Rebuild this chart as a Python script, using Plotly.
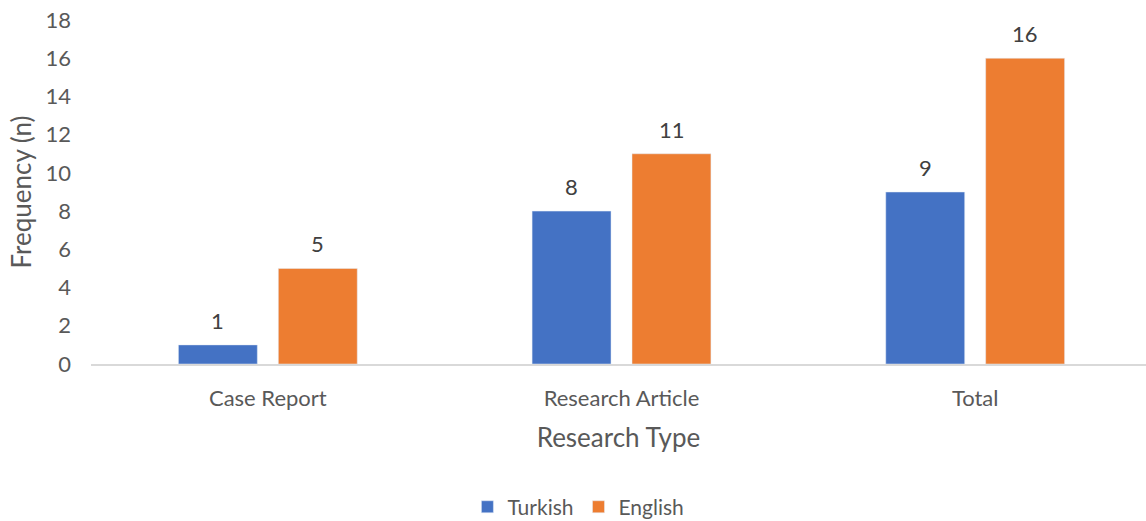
import plotly.graph_objects as go

categories = ["Case Report", "Research Article", "Total"]
turkish = [1, 8, 9]
english = [5, 11, 16]
y_ticks = [0, 2, 4, 6, 8, 10, 12, 14, 16, 18]

FONT = "Lato, Open Sans, sans-serif"
GREY = "#595959"
LABEL = "#404040"

fig = go.Figure()
fig.add_trace(go.Bar(name="Turkish", x=categories, y=turkish, marker_color="#4472C4"))
fig.add_trace(go.Bar(name="English", x=categories, y=english, marker_color="#ED7D31"))

# data labels above bars (offset to each bar of the group)
for vals, dx in ((turkish, -50), (english, 50)):
    for c, v in zip(categories, vals):
        fig.add_annotation(x=c, y=v, text=str(v), showarrow=False, xshift=dx,
                           yanchor="bottom", yshift=9,
                           font=dict(size=22, color=LABEL, family=FONT))

fig.update_layout(
    width=1146, height=521,
    margin=dict(l=91, r=0, t=20, b=157, autoexpand=False),
    plot_bgcolor="white", paper_bgcolor="white",
    barmode="group", bargap=0.435, bargroupgap=0.21,
    font=dict(family=FONT, size=22, color=GREY),
    showlegend=True,
    legend=dict(orientation="h", x=0.462, xanchor="center", y=-0.416, yanchor="middle",
                font=dict(size=21, color=GREY), traceorder="normal"),
    xaxis=dict(range=[-0.5, 2.483], showline=True, linecolor="#D9D9D9", linewidth=2,
               ticks="", showgrid=False, tickfont=dict(size=22, color=GREY),
               ticklabelstandoff=14, automargin=False,
               title=dict(text="Research Type", font=dict(size=26, color=GREY), standoff=18)),
    yaxis=dict(range=[0, 18], tickvals=y_ticks, showgrid=False, zeroline=False, showline=False,
               ticks="", tickfont=dict(size=22, color=GREY), ticklabelstandoff=19,
               automargin=False,
               title=dict(text="Frequency (n)", font=dict(size=26, color=GREY), standoff=6)),
)

fig.write_html("out.html", config={"displayModeBar": False},
               post_script="document.body.style.margin='0';")
